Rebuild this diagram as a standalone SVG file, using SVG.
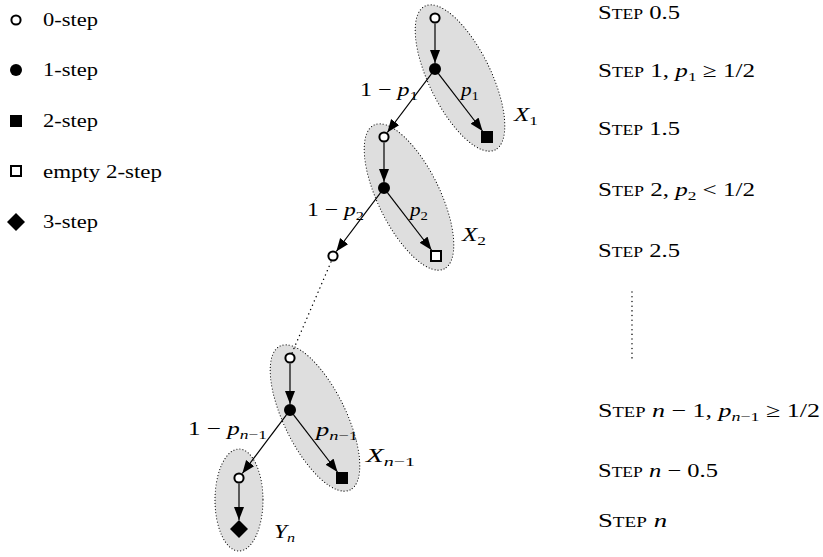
<svg xmlns="http://www.w3.org/2000/svg" width="823" height="557" viewBox="0 0 823 557">
<style>
.t { font-family: "Liberation Serif", "DejaVu Serif", serif; font-size: 19.5px; fill: #000; }
.sc { font-variant: small-caps; }
.i { font-style: italic; }
.sub { font-size: 13.5px; }
.grp { fill: #dedede; stroke: #000; stroke-width: 1.1; stroke-dasharray: 0.1 3; stroke-linecap: round; }
.edge { stroke: #000; stroke-width: 1.2; fill: none; marker-end: url(#ah); }
.open { fill: #fff; stroke: #000; stroke-width: 2; }
.fill { fill: #000; }
.dots { stroke: #000; stroke-width: 1.4; stroke-dasharray: 0.1 4.6; stroke-linecap: round; fill: none; }
</style>
<defs>
<marker id="ah" markerUnits="userSpaceOnUse" markerWidth="14" markerHeight="11" refX="13" refY="5" orient="auto">
<path d="M0,0 L13,5 L0,10 z" fill="#000"/>
</marker>
</defs>
<rect width="823" height="557" fill="#fff"/>

<g id="legend">
<circle class="open" cx="16" cy="20" r="4.6"/>
<text class="t" x="43" y="26" textLength="55" lengthAdjust="spacingAndGlyphs">0-step</text>
<circle class="fill" cx="16" cy="70" r="6"/>
<text class="t" x="43" y="76" textLength="55" lengthAdjust="spacingAndGlyphs">1-step</text>
<rect class="fill" x="10" y="115" width="12" height="12"/>
<text class="t" x="43" y="127" textLength="55" lengthAdjust="spacingAndGlyphs">2-step</text>
<rect class="open" x="11" y="166" width="10" height="10"/>
<text class="t" x="43" y="178" textLength="119" lengthAdjust="spacingAndGlyphs">empty 2-step</text>
<path class="fill" d="M16,213 L25,222 L16,231 L7,222 z"/>
<text class="t" x="43" y="228" textLength="55" lengthAdjust="spacingAndGlyphs">3-step</text>
</g>

<g id="groups">
<g id="X1"><ellipse class="grp" cx="0" cy="0" rx="80" ry="31" transform="translate(460,78) rotate(64)"/>
<text class="t" x="514" y="121" textLength="24" lengthAdjust="spacingAndGlyphs"><tspan class="i">X</tspan><tspan class="sub" dy="4">1</tspan></text></g>
<g id="X2"><ellipse class="grp" cx="0" cy="0" rx="80" ry="31" transform="translate(409,197) rotate(64)"/>
<text class="t" x="462" y="241" textLength="24" lengthAdjust="spacingAndGlyphs"><tspan class="i">X</tspan><tspan class="sub" dy="4">2</tspan></text></g>
<g id="Xn1"><ellipse class="grp" cx="0" cy="0" rx="80" ry="31" transform="translate(315,418) rotate(64)"/>
<text class="t" x="366" y="462" textLength="49" lengthAdjust="spacingAndGlyphs"><tspan class="i">X</tspan><tspan class="sub" dy="4"><tspan class="i">n</tspan>−1</tspan></text></g>
<g id="Yn"><ellipse class="grp" cx="239" cy="500" rx="24" ry="51"/>
<text class="t" x="274" y="538" textLength="21" lengthAdjust="spacingAndGlyphs"><tspan class="i">Y</tspan><tspan class="sub i" dy="4">n</tspan></text></g>
</g>

<g id="connectors">
<line class="edge" x1="435" y1="23.5" x2="435" y2="63"/>
<line class="edge" x1="438.6" y1="73.8" x2="482.5" y2="131"/>
<line class="edge" x1="431.4" y1="73.8" x2="387.3" y2="132.5"/>
<line class="edge" x1="384" y1="142.5" x2="384" y2="182"/>
<line class="edge" x1="387.6" y1="192.8" x2="431.5" y2="250"/>
<line class="edge" x1="380.4" y1="192.8" x2="336.3" y2="251.5"/>
<line class="dots" x1="331" y1="262" x2="292" y2="353"/>
<line class="edge" x1="290" y1="363.5" x2="290" y2="404"/>
<line class="edge" x1="293.6" y1="414.8" x2="337.5" y2="472"/>
<line class="edge" x1="286.4" y1="414.8" x2="242.3" y2="473.5"/>
<line class="edge" x1="239" y1="483.5" x2="239" y2="520"/>
</g>

<g id="edge-labels">
<text class="t" x="360" y="96" textLength="58" lengthAdjust="spacingAndGlyphs">1 − <tspan class="i">p</tspan><tspan class="sub" dy="4">1</tspan></text>
<text class="t" x="461" y="96" textLength="18" lengthAdjust="spacingAndGlyphs"><tspan class="i">p</tspan><tspan class="sub" dy="4">1</tspan></text>
<text class="t" x="307" y="216" textLength="57" lengthAdjust="spacingAndGlyphs">1 − <tspan class="i">p</tspan><tspan class="sub" dy="4">2</tspan></text>
<text class="t" x="410" y="216" textLength="18" lengthAdjust="spacingAndGlyphs"><tspan class="i">p</tspan><tspan class="sub" dy="4">2</tspan></text>
<text class="t" x="188" y="435" textLength="79" lengthAdjust="spacingAndGlyphs">1 − <tspan class="i">p</tspan><tspan class="sub" dy="4"><tspan class="i">n</tspan>−1</tspan></text>
<text class="t" x="316" y="436" textLength="42" lengthAdjust="spacingAndGlyphs"><tspan class="i">p</tspan><tspan class="sub" dy="4"><tspan class="i">n</tspan>−1</tspan></text>
</g>

<g id="n_t1_0"><circle class="open" cx="435" cy="18" r="4.6"/></g>
<g id="n_t1_1"><circle class="fill" cx="435" cy="69" r="6"/></g>
<g id="n_t1_2"><rect class="fill" x="481" y="131" width="12" height="12"/></g>
<g id="n_t2_0"><circle class="open" cx="384" cy="137" r="4.6"/></g>
<g id="n_t2_1"><circle class="fill" cx="384" cy="188" r="6"/></g>
<g id="n_t2_2"><rect class="open" x="431" y="251" width="10" height="10"/></g>
<g id="n_t2_l"><circle class="open" cx="333" cy="256" r="4.6"/></g>
<g id="n_t3_0"><circle class="open" cx="290" cy="358" r="4.6"/></g>
<g id="n_t3_1"><circle class="fill" cx="290" cy="410" r="6"/></g>
<g id="n_t3_2"><rect class="fill" x="336" y="472" width="12" height="12"/></g>
<g id="n_t3_l"><circle class="open" cx="239" cy="478" r="4.6"/></g>
<g id="n_t3_3"><path class="fill" d="M239,520 L248,529 L239,538 L230,529 z"/></g>

<g id="steps">
<text class="t" x="598" y="19" textLength="82" lengthAdjust="spacingAndGlyphs"><tspan class="sc">Step</tspan> 0.5</text>
<text class="t" x="598" y="77" textLength="157" lengthAdjust="spacingAndGlyphs"><tspan class="sc">Step</tspan> 1, <tspan class="i">p</tspan><tspan class="sub" dy="4">1</tspan><tspan dy="-4"> ≥ 1/2</tspan></text>
<text class="t" x="598" y="135" textLength="82" lengthAdjust="spacingAndGlyphs"><tspan class="sc">Step</tspan> 1.5</text>
<text class="t" x="598" y="196" textLength="157" lengthAdjust="spacingAndGlyphs"><tspan class="sc">Step</tspan> 2, <tspan class="i">p</tspan><tspan class="sub" dy="4">2</tspan><tspan dy="-4"> &lt; 1/2</tspan></text>
<text class="t" x="598" y="257" textLength="82" lengthAdjust="spacingAndGlyphs"><tspan class="sc">Step</tspan> 2.5</text>
<line class="dots" x1="632" y1="292" x2="632" y2="361" stroke-dasharray="0.1 7.6"/>
<text class="t" x="598" y="417" textLength="222" lengthAdjust="spacingAndGlyphs"><tspan class="sc">Step</tspan> <tspan class="i">n</tspan> − 1, <tspan class="i">p</tspan><tspan class="sub" dy="4"><tspan class="i">n</tspan>−1</tspan><tspan dy="-4"> ≥ 1/2</tspan></text>
<text class="t" x="598" y="477" textLength="120" lengthAdjust="spacingAndGlyphs"><tspan class="sc">Step</tspan> <tspan class="i">n</tspan> − 0.5</text>
<text class="t" x="598" y="527" textLength="69" lengthAdjust="spacingAndGlyphs"><tspan class="sc">Step</tspan> <tspan class="i">n</tspan></text>
</g>
</svg>
